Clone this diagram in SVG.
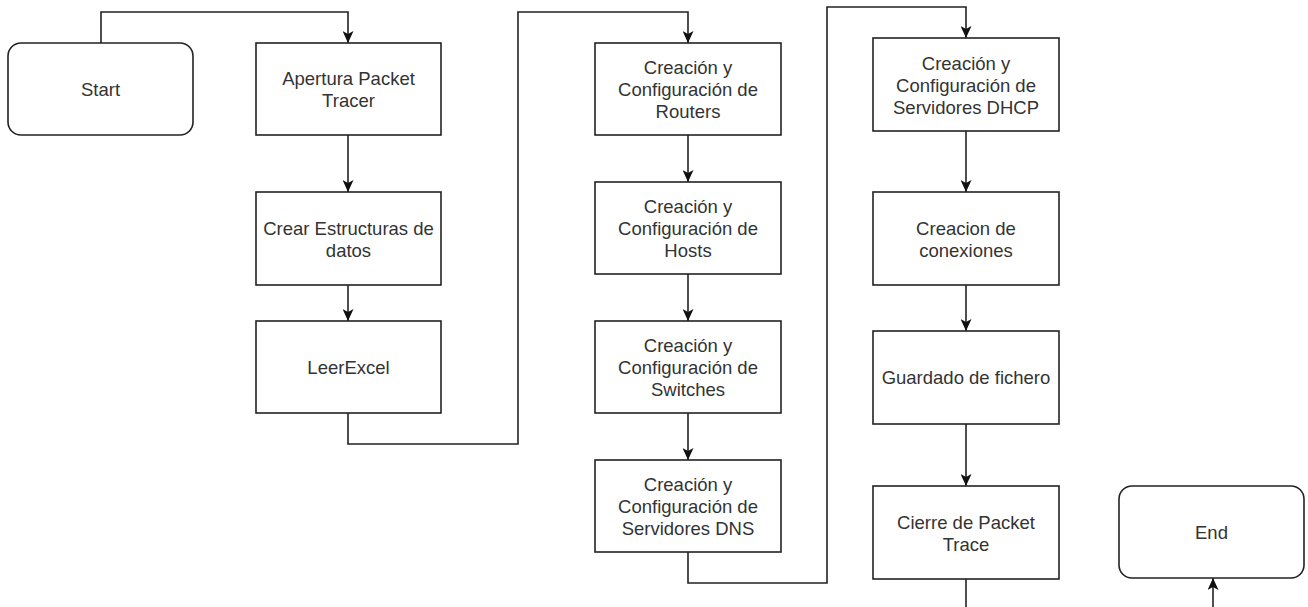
<svg xmlns="http://www.w3.org/2000/svg" width="1308" height="607" viewBox="0 0 1308 607">
  <style>
    .box { fill: #ffffff; stroke: #222222; stroke-width: 1.6; }
    .lbl { font-family: "Liberation Sans", Arial, Helvetica, sans-serif; font-size: 18.5px; fill: #333333; text-anchor: middle; dominant-baseline: central; }
    .edge { fill: none; stroke: #222222; stroke-width: 1.6; }
    .arrow { marker-end: url(#head); }
  </style>
  <defs>
    <marker id="head" markerUnits="userSpaceOnUse" markerWidth="12" markerHeight="11" refX="12" refY="5.5" orient="auto" viewBox="0 0 12 11">
      <path d="M0,0 L12,5.5 L0,11 L3,5.5 Z" fill="#111111"/>
    </marker>
  </defs>
  <rect width="1308" height="607" fill="#ffffff"/>

  <!-- connectors -->
  <g id="connectors">
    <path class="edge arrow" d="M101,43 V12 H348 V43"/>
    <path class="edge arrow" d="M348,135 V192"/>
    <path class="edge arrow" d="M348,285 V321"/>
    <path class="edge arrow" d="M348,413 V444 H518 V12 H688 V43"/>
    <path class="edge arrow" d="M688,135 V182"/>
    <path class="edge arrow" d="M688,274 V321"/>
    <path class="edge arrow" d="M688,413 V460"/>
    <path class="edge arrow" d="M688,552 V583 H827 V7 H966 V38"/>
    <path class="edge arrow" d="M966,131 V192"/>
    <path class="edge arrow" d="M966,285 V331"/>
    <path class="edge arrow" d="M966,424 V486"/>
    <path class="edge" d="M966,579 V610"/>
    <path class="edge arrow" d="M1213,610 V578"/>
  </g>

  <!-- column 1 -->
  <g id="start">
    <rect class="box" x="8" y="43" width="185" height="92" rx="13"/>
    <text class="lbl" x="100.5" y="89">Start</text>
  </g>
  <g id="apertura">
    <rect class="box" x="256" y="43" width="185" height="92"/>
    <text class="lbl" x="348.5" y="89"><tspan x="348.5" dy="-11">Apertura Packet</tspan><tspan x="348.5" dy="22">Tracer</tspan></text>
  </g>
  <g id="crear-estructuras">
    <rect class="box" x="256" y="192" width="185" height="93"/>
    <text class="lbl" x="348.5" y="238.5"><tspan x="348.5" dy="-11">Crear Estructuras de</tspan><tspan x="348.5" dy="22">datos</tspan></text>
  </g>
  <g id="leer-excel">
    <rect class="box" x="256" y="321" width="185" height="92"/>
    <text class="lbl" x="348.5" y="367">LeerExcel</text>
  </g>

  <!-- column 2 -->
  <g id="routers">
    <rect class="box" x="595" y="43" width="186" height="92"/>
    <text class="lbl" x="688" y="89"><tspan x="688" dy="-22">Creación y</tspan><tspan x="688" dy="22">Configuración de</tspan><tspan x="688" dy="22">Routers</tspan></text>
  </g>
  <g id="hosts">
    <rect class="box" x="595" y="182" width="186" height="92"/>
    <text class="lbl" x="688" y="228"><tspan x="688" dy="-22">Creación y</tspan><tspan x="688" dy="22">Configuración de</tspan><tspan x="688" dy="22">Hosts</tspan></text>
  </g>
  <g id="switches">
    <rect class="box" x="595" y="321" width="186" height="92"/>
    <text class="lbl" x="688" y="367"><tspan x="688" dy="-22">Creación y</tspan><tspan x="688" dy="22">Configuración de</tspan><tspan x="688" dy="22">Switches</tspan></text>
  </g>
  <g id="dns">
    <rect class="box" x="595" y="460" width="186" height="92"/>
    <text class="lbl" x="688" y="506"><tspan x="688" dy="-22">Creación y</tspan><tspan x="688" dy="22">Configuración de</tspan><tspan x="688" dy="22">Servidores DNS</tspan></text>
  </g>

  <!-- column 3 -->
  <g id="dhcp">
    <rect class="box" x="873" y="38" width="186" height="93"/>
    <text class="lbl" x="966" y="84.5"><tspan x="966" dy="-22">Creación y</tspan><tspan x="966" dy="22">Configuración de</tspan><tspan x="966" dy="22">Servidores DHCP</tspan></text>
  </g>
  <g id="conexiones">
    <rect class="box" x="873" y="192" width="186" height="93"/>
    <text class="lbl" x="966" y="238.5"><tspan x="966" dy="-11">Creacion de</tspan><tspan x="966" dy="22">conexiones</tspan></text>
  </g>
  <g id="guardado">
    <rect class="box" x="873" y="331" width="186" height="93"/>
    <text class="lbl" x="966" y="377.5">Guardado de fichero</text>
  </g>
  <g id="cierre">
    <rect class="box" x="873" y="486" width="186" height="93"/>
    <text class="lbl" x="966" y="532.5"><tspan x="966" dy="-11">Cierre de Packet</tspan><tspan x="966" dy="22">Trace</tspan></text>
  </g>

  <g id="end">
    <rect class="box" x="1119" y="486" width="185" height="92" rx="13"/>
    <text class="lbl" x="1211.5" y="532">End</text>
  </g>
</svg>
